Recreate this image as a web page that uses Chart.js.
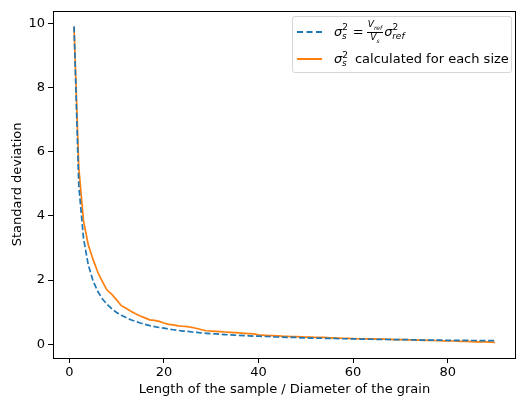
<!DOCTYPE html>
<html>
<head>
    <meta charset="UTF-8">
    <title>Standard deviation vs sample size</title>
    <style>
        body { margin: 0; background: #fff; }
        #wrap { position: relative; width: 517px; height: 402px; }
        #legend {
            position: absolute; left: 292px; top: 16px; width: 218px; height: 55px;
            border: 1px solid #d6d6d6; border-radius: 3px; background: rgba(255,255,255,0.8);
            font-family: "DejaVu Sans", sans-serif; font-size: 13px; color: #000;
        }
        .row { position: absolute; left: 0; display: flex; align-items: center; height: 20px; }
        .sample { width: 25px; margin-left: 4px; margin-right: 12px; height: 0; }
        .dash { border-top: 2px dashed #1f77b4; }
        .solid { border-top: 2px solid #ff7f0e; }
        .frac { display: inline-flex; flex-direction: column; align-items: center; font-size: 9px; font-style: italic; vertical-align: middle; margin: 0 1px; line-height: 9px; }
        .frac span:first-child { border-bottom: 1px solid #000; padding: 0 1px; }
        sup.p { font-size: 9px; }
        sub.s { font-size: 9px; margin-left: -6px; font-style: italic; }
        sub.t { font-size: 6px; font-style: italic; }
        .eq { margin: 0 2px; }
    </style>
    <script src="https://cdnjs.cloudflare.com/ajax/libs/Chart.js/4.4.1/chart.umd.min.js"></script>
</head>
<body>
<div id="wrap">
    <canvas id="sdChart" width="517" height="402"></canvas>
    <div id="legend">
        <div class="row" style="top: 5px;">
            <div class="sample dash"></div>
            <span><i>&sigma;</i><sup class="p">2</sup><sub class="s">s</sub>&nbsp;<span class="eq">=</span><span class="frac"><span>V<sub class="t">ref</sub></span><span>V<sub class="t">s</sub></span></span><i>&sigma;</i><sup class="p">2</sup><sub class="s">ref</sub></span>
        </div>
        <div class="row" style="top: 32px;">
            <div class="sample solid"></div>
            <span><i>&sigma;</i><sup class="p">2</sup><sub class="s">s</sub>&nbsp; calculated for each size</span>
        </div>
    </div>
</div>
<script>
    const sizes = [];
    for (let i = 1; i <= 90; i++) sizes.push(i);

    const theoretical = [
        9.90, 4.95, 3.30, 2.48, 1.98, 1.65, 1.41, 1.24, 1.10, 0.99,
        0.90, 0.83, 0.76, 0.71, 0.66, 0.62, 0.58, 0.55, 0.52, 0.50,
        0.47, 0.45, 0.43, 0.41, 0.40, 0.38, 0.37, 0.35, 0.34, 0.33,
        0.32, 0.31, 0.30, 0.29, 0.28, 0.275, 0.27, 0.26, 0.25, 0.25,
        0.24, 0.24, 0.23, 0.225, 0.22, 0.215, 0.21, 0.21, 0.20, 0.20,
        0.19, 0.19, 0.19, 0.18, 0.18, 0.18, 0.17, 0.17, 0.17, 0.165,
        0.16, 0.16, 0.16, 0.155, 0.15, 0.15, 0.15, 0.145, 0.14, 0.14,
        0.14, 0.14, 0.135, 0.13, 0.13, 0.13, 0.13, 0.125, 0.125, 0.12,
        0.12, 0.12, 0.12, 0.12, 0.115, 0.115, 0.11, 0.11, 0.11, 0.11
    ];

    const calculated = [
        9.90, 5.50, 3.85, 3.10, 2.65, 2.25, 1.95, 1.68, 1.55, 1.38,
        1.20, 1.12, 1.03, 0.95, 0.88, 0.82, 0.76, 0.74, 0.71, 0.66,
        0.62, 0.60, 0.57, 0.56, 0.55, 0.52, 0.49, 0.45, 0.42, 0.41,
        0.40, 0.39, 0.38, 0.37, 0.36, 0.35, 0.34, 0.33, 0.32, 0.29,
        0.28, 0.27, 0.265, 0.26, 0.25, 0.245, 0.24, 0.235, 0.23, 0.22,
        0.22, 0.215, 0.21, 0.21, 0.20, 0.195, 0.19, 0.185, 0.18, 0.175,
        0.17, 0.17, 0.165, 0.165, 0.16, 0.16, 0.155, 0.15, 0.145, 0.14,
        0.14, 0.135, 0.13, 0.125, 0.12, 0.12, 0.115, 0.11, 0.105, 0.10,
        0.10, 0.095, 0.09, 0.085, 0.08, 0.075, 0.07, 0.07, 0.065, 0.06
    ];

    const xTicks = [0, 20, 40, 60, 80];
    const yTicks = [0, 2, 4, 6, 8, 10];

    const font = { family: "DejaVu Sans", size: 13 };

    // matplotlib draws a box on all four sides
    const frame = {
        id: "frame",
        afterDraw(chart) {
            const a = chart.chartArea, c = chart.ctx;
            c.save();
            c.strokeStyle = "#000";
            c.lineWidth = 1;
            c.strokeRect(Math.round(a.left) + 0.5, Math.round(a.top) + 0.5,
                Math.round(a.right - a.left) - 1, Math.round(a.bottom - a.top));
            c.restore();
        }
    };

    const ctx = document.getElementById("sdChart").getContext("2d");
    new Chart(ctx, {
        type: "line",
        data: {
            datasets: [
                { label: "theoretical", data: sizes.map((x, i) => ({ x: x, y: theoretical[i] })),
                  borderColor: "#1f77b4", borderWidth: 1.7, borderDash: [6, 2.6], pointRadius: 0, fill: false, tension: 0 },
                { label: "calculated", data: sizes.map((x, i) => ({ x: x, y: calculated[i] })),
                  borderColor: "#ff7f0e", borderWidth: 1.7, pointRadius: 0, fill: false, tension: 0 },
            ],
        },
        options: {
            responsive: false,
            animation: false,
            layout: { padding: { top: 9, right: 1, left: 0, bottom: 0 } },
            plugins: { legend: { display: false }, tooltip: { enabled: false } },
            scales: {
                x: {
                    type: "linear", min: -3.45, max: 94.45,
                    afterBuildTicks: s => { s.ticks = xTicks.map(v => ({ value: v })); },
                    afterFit: s => { s.height = 44; },
                    grid: { drawOnChartArea: false, drawTicks: true, tickLength: 5, color: "#000" },
                    border: { display: false },
                    ticks: { font: font, color: "#000", padding: 2, maxRotation: 0 },
                    title: { display: true, text: "Length of the sample / Diameter of the grain", font: font, color: "#000", padding: { top: 0, bottom: 5 } },
                },
                y: {
                    type: "linear", min: -0.43, max: 10.39,
                    afterBuildTicks: s => { s.ticks = yTicks.map(v => ({ value: v })); },
                    afterFit: s => { s.width = 53; },
                    grid: { drawOnChartArea: false, drawTicks: true, tickLength: 5, color: "#000" },
                    border: { display: false },
                    ticks: { font: font, color: "#000", padding: 3 },
                    title: { display: true, text: "Standard deviation", font: font, color: "#000", padding: { top: 10, bottom: 0 } },
                },
            },
        },
        plugins: [frame],
    });
</script>
</body>
</html>
